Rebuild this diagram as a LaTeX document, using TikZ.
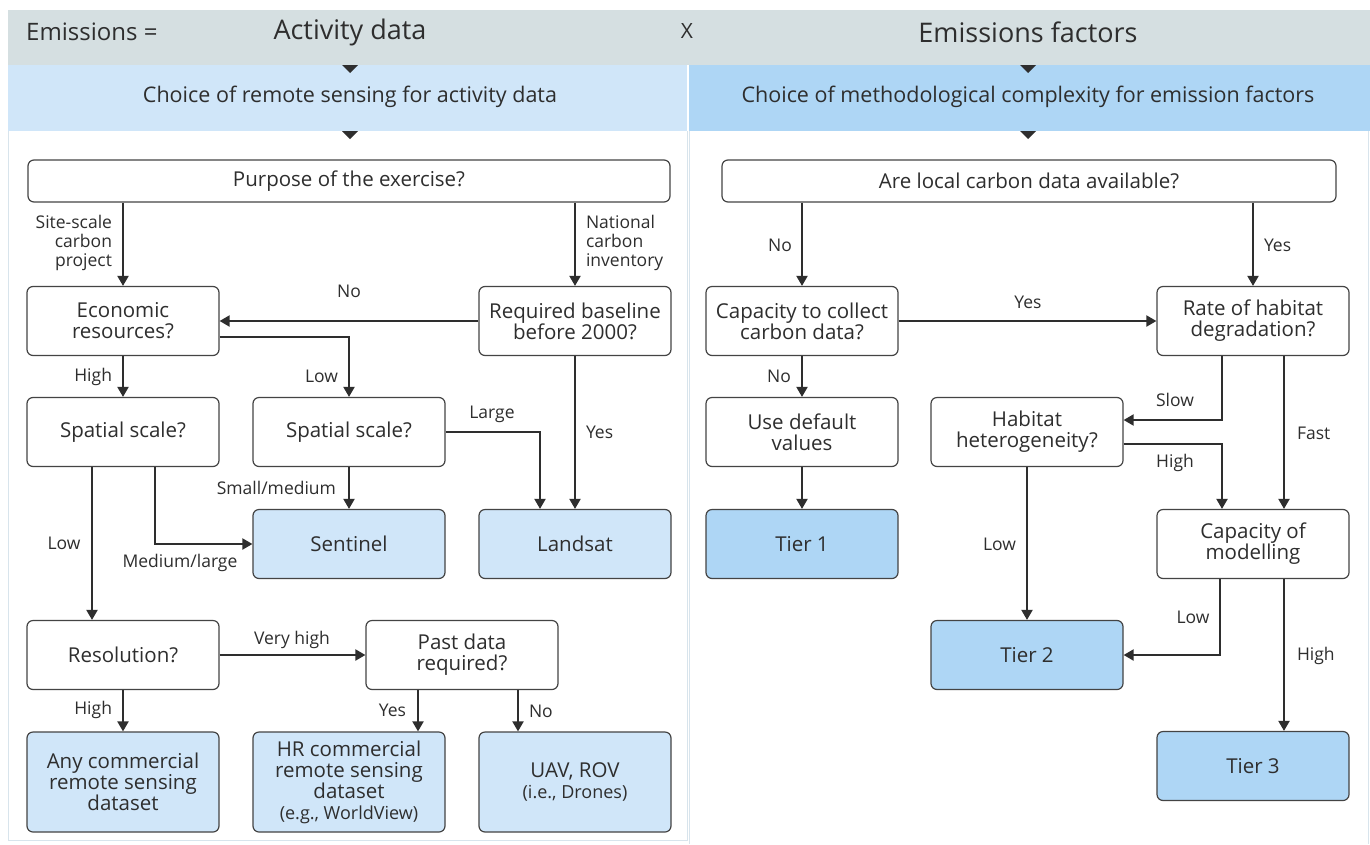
\documentclass[tikz,border=0pt]{standalone}
\usepackage{fontspec}
\setmainfont{Open Sans}
\usetikzlibrary{arrows.meta,calc}
\definecolor{ink}{HTML}{2E2E2E}
\definecolor{boxline}{HTML}{444444}
\definecolor{band}{HTML}{D5DFE1}
\definecolor{bandL}{HTML}{D0E6F9}
\definecolor{bandR}{HTML}{AED6F5}
\definecolor{resultL}{HTML}{D0E6F9}
\definecolor{resultR}{HTML}{AED6F5}
\definecolor{panel}{HTML}{D8E4EC}
\begin{document}
\begin{tikzpicture}[x=1pt,y=-1pt,
 box/.style={draw=boxline, line width=1.2pt, rounded corners=6pt, minimum width=192pt, minimum height=69pt, inner sep=0pt, align=center, font=\fontsize{20.5}{21}\selectfont, text=ink, fill=white},
 resL/.style={box, fill=resultL},
 resR/.style={box, fill=resultR},
 arr/.style={draw=ink, line width=2pt, -{Triangle[width=11pt,length=10pt]}},
 lab/.style={font=\fontsize{17.5}{19}\selectfont, text=ink, inner sep=0pt},
 head/.style={font=\fontsize{27}{30}\selectfont, text=ink, inner sep=0pt},
 sub/.style={font=\fontsize{21.5}{24}\selectfont, text=ink, inner sep=0pt},
]
\useasboundingbox (0,0) rectangle (1370,844);
\fill[white] (0,0) rectangle (1370,844);
% bands
\fill[band] (8,10) rectangle (1370,65);
\fill[bandL] (8,65) rectangle (687,131);
\fill[bandR] (689,65) rectangle (1370,131);
\draw[panel, line width=1pt] (8,131) -- (8,840) -- (687,840) -- (687,131);
\draw[panel, line width=1pt] (689,131) -- (689,844);
\draw[panel, line width=1pt] (1368,131) -- (1368,844);
% triangles
\fill[ink] (342,65) -- (358,65) -- (350,73) -- cycle;
\fill[ink] (342,131) -- (358,131) -- (350,139) -- cycle;
\fill[ink] (1020,65) -- (1036,65) -- (1028,73) -- cycle;
\fill[ink] (1020,131) -- (1036,131) -- (1028,139) -- cycle;
% header texts
\node[head, font=\fontsize{24}{28}\selectfont, anchor=west] (emis) at (26,32) {Emissions =};
\node[head] (act) at (350,32) {Activity data};
\node[head, font=\fontsize{21}{24}\selectfont] (times) at (687,31) {X};
\node[head] (ef) at (1028,32) {Emissions factors};
\node[sub] (chL) at (350,97) {Choice of remote sensing for activity data};
\node[sub] (chR) at (1028,97) {Choice of methodological complexity for emission factors};
% left nodes
\node[box, minimum width=642pt, minimum height=42pt] (purp) at (349,181) {Purpose of the exercise?};
\node[box] (eco) at (123,321) {Economic\\resources?};
\node[box] (req) at (575,321) {Required baseline\\before 2000?};
\node[box] (ssl) at (123,432) {Spatial scale?};
\node[box] (ssm) at (349,432) {Spatial scale?};
\node[resL] (sent) at (349,544) {Sentinel};
\node[resL] (land) at (575,544) {Landsat};
\node[box] (resn) at (123,655) {Resolution?};
\node[box] (past) at (462,655) {Past data\\required?};
\node[resL, minimum height=100pt] (anyc) at (123,782) {Any commercial\\remote sensing\\dataset};
\node[resL, minimum height=100pt] (hrc) at (349,782) {HR commercial\\remote sensing\\dataset\\{\fontsize{18}{21}\selectfont (e.g., WorldView)}};
\node[resL, minimum height=100pt] (uav) at (575,782) {UAV, ROV\\{\fontsize{18}{21}\selectfont (i.e., Drones)}};
% right nodes
\node[box, minimum width=614pt, minimum height=42pt] (loc) at (1029,181) {Are local carbon data available?};
\node[box] (capc) at (802,321) {Capacity to collect\\carbon data?};
\node[box] (rate) at (1253,321) {Rate of habitat\\degradation?};
\node[box] (dflt) at (802,432) {Use default\\values};
\node[box] (het) at (1027,432) {Habitat\\heterogeneity?};
\node[resR] (t1) at (802,544) {Tier 1};
\node[box] (capm) at (1253,544) {Capacity of\\modelling};
\node[resR] (t2) at (1027,655) {Tier 2};
\node[resR] (t3) at (1253,766) {Tier 3};
% left connectors
\draw[arr] (purp.south -| eco.north) -- (eco.north) node[lab, anchor=east, align=right] (l1) at (113,243) {Site-scale\\carbon\\project};
\draw[arr] (purp.south -| req.north) -- (req.north) node[lab, anchor=west, align=left] (l2) at (585,243) {National\\carbon\\inventory};
\draw[arr] (req.west) -- (eco.east) node[lab] (l3) at (349,291) {No};
\draw[arr] (eco.south) -- (ssl.north) node[lab, anchor=east] (l4) at (113,377) {High};
\draw[arr] ($(eco.east)+(0,16)$) -| (ssm.north) node[lab, anchor=east] (l5) at (339,376) {Low};
\draw[arr] (req.south) -- (land.north) node[lab, anchor=west] (l6) at (585,432) {Yes};
\draw[arr] (ssm.east) -| ($(land.north)+(-35,0)$) node[lab] (l7) at (492,414) {Large};
\draw[arr] (ssm.south) -- (sent.north) node[lab, anchor=east] (l8) at (337,488) {Small/medium};
\draw[arr] ($(ssl.south)+(32,0)$) |- (sent.west) node[lab] (l9) at (180,563) {Medium/large};
\draw[arr] ($(ssl.south)+(-31,0)$) -- ($(resn.north)+(-31,0)$) node[lab] (l10) at (64,543) {Low};
\draw[arr] (resn.east) -- (past.west) node[lab] (l11) at (292,640) {Very high};
\draw[arr] (resn.south) -- (anyc.north) node[lab, anchor=east] (l12) at (113,710) {High};
\draw[arr] ($(past.south)+(-44,0)$) -- ($(hrc.north)+(69,0)$) node[lab, anchor=east] (l13) at (407,710) {Yes};
\draw[arr] ($(past.south)+(56,0)$) -- ($(uav.north)+(-57,0)$) node[lab, anchor=west] (l14) at (528,711) {No};
% right connectors
\draw[arr] (loc.south -| capc.north) -- (capc.north) node[lab] (r1) at (780,245) {No};
\draw[arr] (loc.south -| rate.north) -- (rate.north) node[lab, anchor=west] (r2) at (1263,245) {Yes};
\draw[arr] (capc.east) -- (rate.west) node[lab] (r3) at (1028,302) {Yes};
\draw[arr] (capc.south) -- (dflt.north) node[lab, anchor=east] (r4) at (792,376) {No};
\draw[arr] ($(rate.south)+(-31,0)$) |- ($(het.east)+(0,-12)$) node[lab] (r5) at (1175,400) {Slow};
\draw[arr] ($(rate.south)+(31,0)$) -- ($(capm.north)+(31,0)$) node[lab, anchor=west] (r6) at (1296,433) {Fast};
\draw[arr] ($(het.east)+(0,12)$) -| ($(capm.north)+(-31,0)$) node[lab] (r7) at (1175,463) {High};
\draw[arr] (het.south) -- (t2.north) node[lab, anchor=east] (r8) at (1017,544) {Low};
\draw[arr] (dflt.south) -- (t1.north);
\draw[arr] ($(capm.south)+(-33,0)$) |- (t2.east) node[lab] (r9) at (1193,617) {Low};
\draw[arr] ($(capm.south)+(31,0)$) -- ($(t3.north)+(31,0)$) node[lab, anchor=west] (r10) at (1296,656) {High};
\end{tikzpicture}
\end{document}
